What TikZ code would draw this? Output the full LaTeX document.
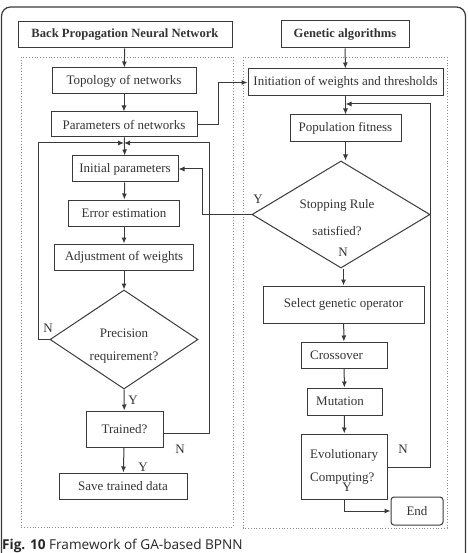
\documentclass[tikz,border=0pt]{standalone}
\usepackage{fontspec}
\setmainfont{Liberation Serif}
\newfontfamily\capfont{Open Sans}
\usetikzlibrary{shapes.geometric,arrows.meta,calc}
\definecolor{lc}{HTML}{3A3A3A}
\definecolor{tc}{HTML}{333333}
\definecolor{dc}{HTML}{8A8A8A}
\tikzset{
  box/.style={draw=lc, line width=1pt, inner sep=0pt, font=\fontsize{13}{15}\selectfont, text=tc},
  dia/.style={draw=lc, line width=1pt, diamond, inner sep=0pt},
  txt/.style={inner sep=0pt, font=\fontsize{13}{15}\selectfont, text=tc},
  conn/.style={draw=lc, line width=1pt},
  arr/.style={conn, -{Latex[length=6pt,width=5pt]}},
  dotbox/.style={draw=dc, line width=0.8pt, dotted},
}
\begin{document}
\begin{tikzpicture}[x=1pt,y=-1pt]
\useasboundingbox (0,0) rectangle (467,553);
% outer frame
\draw[lc, line width=1.2pt, rounded corners=9pt] (1.5,553) -- (1.5,7) -- (465.5,7) -- (465.5,553);
% dotted boxes
\draw[dotbox] (21,57) rectangle (233,527);
\draw[dotbox] (243,57) rectangle (447,528);
% left column
\node[box, minimum width=214pt, minimum height=26pt, font=\fontsize{12.6}{14}\selectfont\bfseries] (bp) at (125,35) {Back Propagation Neural Network};
\node[box, minimum width=144pt, minimum height=26pt] (topo) at (124,81) {Topology of networks};
\node[box, minimum width=146pt, minimum height=25pt] (param) at (124,124.5) {Parameters of networks};
\node[box, minimum width=106pt, minimum height=26pt] (init) at (125,169) {Initial parameters};
\node[box, minimum width=111pt, minimum height=26pt] (err) at (124,213) {Error estimation};
\node[box, minimum width=139pt, minimum height=26pt] (adj) at (124,257) {Adjustment of weights};
\node[dia, minimum width=148pt, minimum height=99pt] (prec) at (124,339.5) {};
\node[txt] (prect1) at (124,333) {Precision};
\node[txt] (prect2) at (124,358) {requirement?};
\node[box, minimum width=77pt, minimum height=36pt] (trained) at (124.5,429) {Trained?};
\node[box, minimum width=128pt, minimum height=26pt] (save) at (123,486) {Save trained data};
\coordinate (mj) at (124,143);
\coordinate (lj) at (38,143);
\coordinate (rj) at (209,143);
% right column
\node[box, minimum width=128pt, minimum height=27pt, font=\fontsize{12.6}{14}\selectfont\bfseries] (ga) at (345,34.5) {Genetic algorithms};
\node[box, minimum width=195pt, minimum height=27pt] (iw) at (345.5,82.5) {Initiation of weights and thresholds};
\node[box, minimum width=111pt, minimum height=27pt] (pop) at (345.5,128.5) {Population fitness};
\node[dia, minimum width=178pt, minimum height=107pt] (stop) at (341,214.5) {};
\node[txt] (stopt1) at (337,205) {Stopping Rule};
\node[txt] (stopt2) at (337,231) {satisfied?};
\node[box, minimum width=161pt, minimum height=37pt] (sel) at (343.5,304.5) {Select genetic operator};
\node[box, minimum width=86pt, minimum height=26pt] (cross) at (344,355) {};
\node[txt, anchor=west] (crosst) at (310,355) {Crossover};
\node[box, minimum width=75pt, minimum height=27pt] (mut) at (344.5,401.5) {};
\node[txt, anchor=west] (mutt) at (316,401.5) {Mutation};
\node[box, minimum width=86pt, minimum height=65pt] (evo) at (344,466.5) {};
\node[txt, anchor=west] (evot1) at (310,455) {Evolutionary};
\node[txt, anchor=west] (evot2) at (310,479) {Computing?};
\node[box, minimum width=52pt, minimum height=28pt, rounded corners=3pt] (end) at (417,511) {End};
% labels
\node[txt] (ln1) at (48,328) {N};
\node[txt] (ly1) at (133,400) {Y};
\node[txt] (ln2) at (180,449) {N};
\node[txt] (ly2) at (143,467) {Y};
\node[txt] (ly3) at (258,199) {Y};
\node[txt] (ln3) at (343,252) {N};
\node[txt] (ln4) at (403,449) {N};
\node[txt] (ly4) at (347,487) {Y};
% connectors left
\draw[arr] (bp) -- (topo);
\draw[arr] (topo) -- (param);
\draw[arr] (param) -- (init);
\draw[arr] (init) -- (err);
\draw[arr] (err) -- (adj);
\draw[arr] (adj) -- (prec.north);
\draw[arr] (prec.south) -- (trained);
\draw[arr] (trained) -- (save);
\draw[arr] (prec.west) -| (lj) -- (mj);
\draw[arr] (trained.east |- 0,433) -| (rj) -- (mj);
% connectors right
\coordinate (pj) at (218,125);
\draw[arr] (param.east |- pj) -- (pj) |- (iw.west);
\draw[arr] (ga) -- (iw);
\draw[arr] (iw) -- (pop);
\draw[arr] (pop.south) -- (pop.south |- stop.north);
\coordinate (yj) at (202,214.5);
\draw[arr] (stop.west) -- (yj) |- (init.east);
\draw[arr] (stop.south -| sel.north) -- (sel.north);
\draw[arr] (sel) -- (cross);
\draw[arr] (cross) -- (mut);
\draw[arr] (mut) -- (evo);
\coordinate (ej) at (430,104);
\draw[arr] (evo.east |- 0,467) -| (ej) -- (345.5,104);
\draw[arr] (evo.south) |- (end.west);
% caption
\node[anchor=base west, inner sep=0pt, font=\capfont\fontsize{13.6}{15}\selectfont, text=black!85] (cap) at (2,549) {\textbf{Fig. 10} Framework of GA-based BPNN};
\end{tikzpicture}
\end{document}
